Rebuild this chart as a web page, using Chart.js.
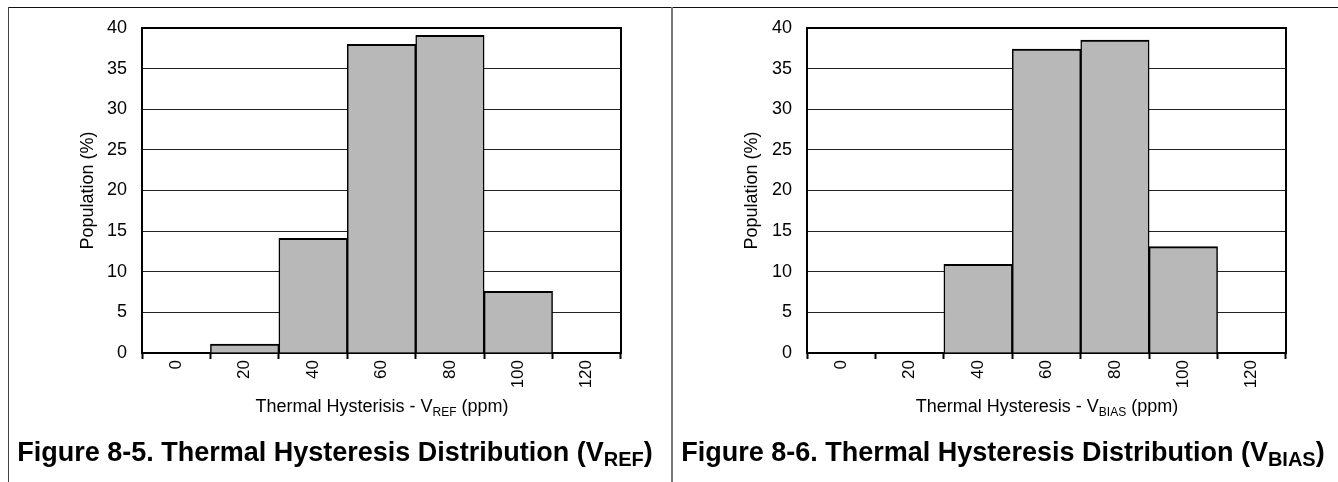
<!DOCTYPE html>
<html>
<head>
<meta charset="utf-8">
<script src="https://cdn.jsdelivr.net/npm/chart.js@4/dist/chart.umd.min.js"></script>
<style>
  html, body { margin: 0; padding: 0; background: #fff; }
  #wrap { position: relative; width: 1338px; height: 482px; overflow: hidden; background: #fff; font-family: "Liberation Sans", Arial, sans-serif; color: #000; }
  canvas { position: absolute; top: 0; }
  .line { position: absolute; }
  .xtitle { position: absolute; top: 396px; font-size: 18px; line-height: 20px; white-space: nowrap; transform: translateX(-50%); }
  .xtitle sub { font-size: 12px; vertical-align: -4px; line-height: 0; }
  .caption { position: absolute; top: 437px; font-size: 27px; font-weight: bold; line-height: 30px; white-space: nowrap; transform: translateX(-50%); }
  .caption sub { font-size: 20px; vertical-align: -5px; line-height: 0; }
</style>
</head>
<body>
<div id="wrap">
  <canvas id="c1" width="670" height="482" style="left:0px;width:670px;height:482px"></canvas>
  <canvas id="c2" width="667" height="482" style="left:671px;width:667px;height:482px"></canvas>
  <div class="line" style="left:8px;top:7px;width:1330px;height:1px;background:#111"></div>
  <div class="line" style="left:8px;top:7px;width:1px;height:475px;background:#444"></div>
  <div class="line" style="left:671px;top:7px;width:2px;height:475px;background:#777"></div>
  <div class="xtitle" style="left:382px">Thermal Hysterisis - V<sub>REF</sub> (ppm)</div>
  <div class="xtitle" style="left:1047px">Thermal Hysteresis - V<sub>BIAS</sub> (ppm)</div>
  <div class="caption" style="left:335px">Figure 8-5. Thermal Hysteresis Distribution (V<sub>REF</sub>)</div>
  <div class="caption" style="left:1003px">Figure 8-6. Thermal Hysteresis Distribution (V<sub>BIAS</sub>)</div>
</div>
<script>
const categories = ['0', '20', '40', '60', '80', '100', '120'];
const vrefPopulation = [0, 1.1, 14.1, 38.0, 39.1, 7.6, 0];
const vbiasPopulation = [0, 0, 10.9, 37.4, 38.5, 13.1, 0];
const yMin = 0, yMax = 40, yStep = 5;
const yTitle = 'Population (%)';

const FONT = '"Liberation Sans", Arial, sans-serif';

const framePlugin = {
  id: 'frame',
  afterDatasetsDraw(chart) {
    const a = chart.chartArea, ctx = chart.ctx;
    ctx.save();
    ctx.strokeStyle = '#000';
    ctx.lineWidth = 2;
    ctx.beginPath();
    ctx.moveTo(a.left, a.top);
    ctx.lineTo(a.right, a.top);
    ctx.lineTo(a.right, a.bottom);
    ctx.stroke();
    ctx.restore();
  }
};

function makeChart(id, values, pad, yWidth) {
  return new Chart(document.getElementById(id), {
    type: 'bar',
    data: {
      labels: categories,
      datasets: [{
        data: values,
        backgroundColor: '#b8b8b8',
        borderColor: '#000',
        borderWidth: { top: 2, left: 1.5, right: 1.5, bottom: 0 },
        borderSkipped: false,
        categoryPercentage: 1.0,
        barPercentage: 1.0
      }]
    },
    options: {
      responsive: false,
      animation: false,
      devicePixelRatio: 1,
      layout: { padding: pad },
      plugins: { legend: { display: false }, tooltip: { enabled: false } },
      scales: {
        x: {
          grid: { offset: true, drawOnChartArea: false, drawTicks: true, tickLength: 6, tickColor: '#000', tickWidth: 2 },
          border: { display: true, color: '#000', width: 2 },
          ticks: { color: '#000', font: { family: FONT, size: 17 }, maxRotation: 90, minRotation: 90, padding: 1, autoSkip: false },
          afterFit(scale) { scale.height = 40; }
        },
        y: {
          min: yMin, max: yMax,
          grid: { color: '#222', lineWidth: 1, drawTicks: false },
          border: { display: true, color: '#000', width: 2 },
          ticks: { stepSize: yStep, color: '#000', font: { family: FONT, size: 18 }, padding: 15 },
          title: { display: true, text: yTitle, color: '#000', font: { family: FONT, size: 18 }, padding: 4 },
          afterFit(scale) { scale.width = yWidth; }
        }
      }
    },
    plugins: [framePlugin]
  });
}

makeChart('c1', vrefPopulation, { left: 73, top: 28, right: 49, bottom: 89 }, 69);
makeChart('c2', vbiasPopulation, { left: 66, top: 28, right: 52, bottom: 89 }, 70);
</script>
</body>
</html>
